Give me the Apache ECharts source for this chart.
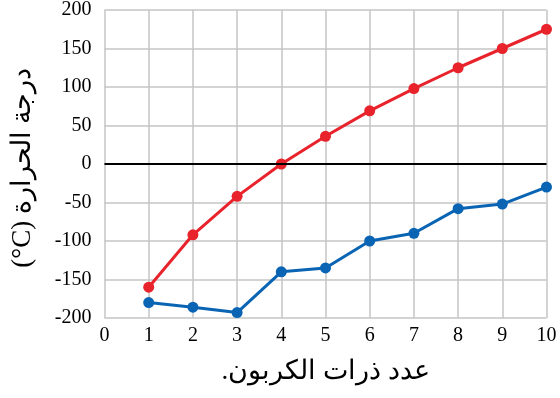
<!DOCTYPE html>
<html>
<head>
<meta charset="utf-8">
<script src="https://cdn.jsdelivr.net/npm/echarts@6/dist/echarts.min.js"></script>
<style>
html,body{margin:0;padding:0;background:#fff;}
#chart{width:560px;height:398px;}
</style>
</head>
<body>
<div id="chart"></div>
<script>
const carbonAtoms = [1, 2, 3, 4, 5, 6, 7, 8, 9, 10];
const boilingPoints = [-160, -92, -42, 0, 36, 69, 98, 125, 150, 175];
const meltingPoints = [-180, -186, -193, -140, -135, -100, -90, -58, -52, -30];
const xTitle = '\u2067عدد ذرات الكربون.\u2069';
const yTitle = '\u2067درجة الحرارة \u2066(°C)\u2069\u2069';

const serif = '"Liberation Serif", "DejaVu Serif", serif';
const chart = echarts.init(document.getElementById('chart'), null, {renderer: 'canvas'});

const pairs = (ys) => carbonAtoms.map((x, i) => [x, ys[i]]);

chart.setOption({
  animation: false,
  backgroundColor: '#ffffff',
  grid: {left: 104.5, right: 13.5, top: 7.5, bottom: 80, containLabel: false},
  xAxis: {
    type: 'value', min: 0, max: 10, interval: 1,
    name: xTitle, nameLocation: 'middle', nameGap: 40,
    nameTextStyle: {fontFamily: serif, fontSize: 27, color: '#000'},
    axisLine: {show: false}, axisTick: {show: false},
    axisLabel: {fontFamily: serif, fontSize: 20, color: '#000', margin: 8},
    splitLine: {show: true, lineStyle: {color: '#c4c4c4', width: 1.5}}
  },
  yAxis: {
    type: 'value', min: -200, max: 200, interval: 50,
    axisLine: {show: false}, axisTick: {show: false},
    axisLabel: {fontFamily: serif, fontSize: 20, color: '#000', margin: 13},
    splitLine: {show: true, lineStyle: {color: '#c4c4c4', width: 1.5}}
  },
  graphic: [{
    type: 'text', x: 23, y: 168, rotation: Math.PI / 2,
    style: {text: yTitle, font: '27px ' + serif, fill: '#000', align: 'center', verticalAlign: 'middle'}
  }],
  series: [
    {
      type: 'line', data: pairs(meltingPoints), symbol: 'circle', symbolSize: 11,
      itemStyle: {color: '#0a64b4'}, lineStyle: {color: '#0a64b4', width: 3},
      markLine: {
        silent: true, symbol: 'none', label: {show: false},
        lineStyle: {color: '#000', width: 1.8, type: 'solid'},
        data: [{yAxis: 0}]
      }
    },
    {
      type: 'line', data: pairs(boilingPoints), symbol: 'circle', symbolSize: 11,
      itemStyle: {color: '#e8232b'}, lineStyle: {color: '#e8232b', width: 3}
    }
  ]
});
</script>
</body>
</html>
